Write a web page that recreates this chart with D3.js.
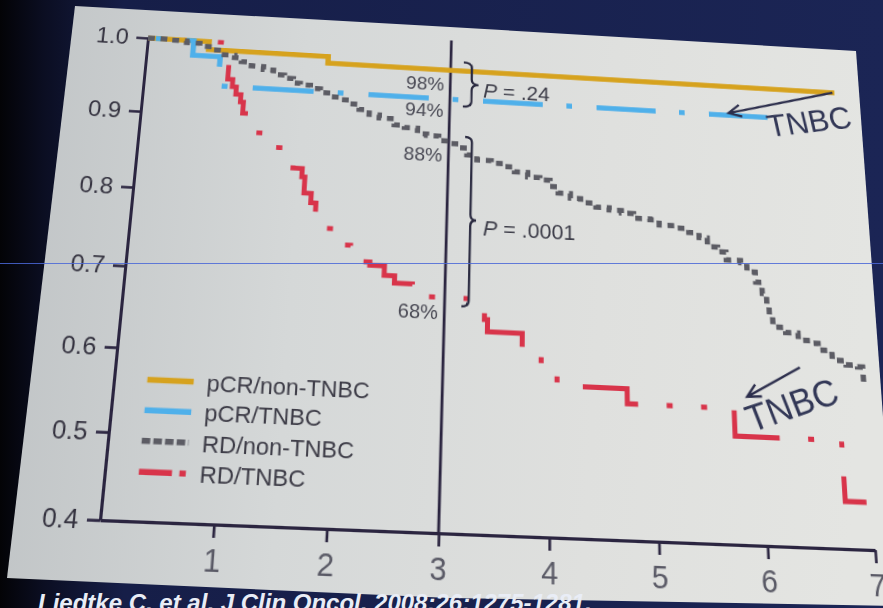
<!DOCTYPE html>
<html>
<head>
<meta charset="utf-8">
<script src="https://cdn.jsdelivr.net/npm/d3@7"></script>
<style>
  html, body { margin: 0; padding: 0; width: 883px; height: 608px; overflow: hidden; background: #141c40; }
  #stage { position: relative; width: 883px; height: 608px; overflow: hidden; }
  #stage svg { position: absolute; left: 0; top: 0; }
  #chart { transform-origin: 0 0; overflow: visible; }
</style>
</head>
<body>
<div id="stage"></div>
<script>
// ---- Overall survival by response and subtype (years) ----
const xTicks = [1, 2, 3, 4, 5, 6, 7];
const yTicks = [0.4, 0.5, 0.6, 0.7, 0.8, 0.9, 1.0];
const landmarkYear = 3;

const pcrNonTnbcTime = [0, 0.6, 1.78, 6.9];
const pcrNonTnbcSurv = [1.0, 0.989, 0.98, 0.98];

const pcrTnbcTime = [0, 0.45, 0.72, 6.2];
const pcrTnbcSurv = [1.0, 0.98, 0.94, 0.94];

const rdNonTnbcTime = [0, 0.2, 0.38, 0.51, 0.64, 0.73, 0.86, 0.93, 1.03, 1.15, 1.25, 1.36, 1.45, 1.52,
  1.62, 1.72, 1.82, 1.92, 2.02, 2.11, 2.21, 2.31, 2.46, 2.56, 2.69, 2.78, 2.9, 3.0, 3.1, 3.18, 3.28,
  3.42, 3.55, 3.65, 3.78, 3.9, 4.0, 4.08, 4.2, 4.3, 4.45, 4.58, 4.7, 4.82, 4.98, 5.07, 5.22, 5.36,
  5.46, 5.54, 5.64, 5.72, 5.86, 5.92, 6.0, 6.06, 6.1, 6.12, 6.15, 6.27, 6.39, 6.52, 6.58, 6.71,
  6.84, 6.95, 7.0];
const rdNonTnbcSurv = [1.0, 0.999, 0.997, 0.993, 0.989, 0.983, 0.98, 0.975, 0.97, 0.966, 0.96, 0.956,
  0.95, 0.948, 0.944, 0.939, 0.934, 0.931, 0.926, 0.919, 0.913, 0.909, 0.901, 0.898, 0.891, 0.889,
  0.883, 0.88, 0.875, 0.866, 0.86, 0.857, 0.853, 0.847, 0.841, 0.838, 0.83, 0.822, 0.816, 0.811,
  0.806, 0.803, 0.8, 0.794, 0.793, 0.787, 0.784, 0.779, 0.773, 0.762, 0.756, 0.746, 0.743, 0.732,
  0.719, 0.705, 0.688, 0.676, 0.663, 0.657, 0.648, 0.645, 0.637, 0.625, 0.62, 0.618, 0.60];

const rdTnbcTime = [0, 0.81, 0.86, 0.9, 0.95, 0.98, 1.06, 1.11, 1.25, 1.35, 1.45, 1.5, 1.59, 1.62,
  1.69, 1.74, 1.85, 1.94, 2.02, 2.09, 2.2, 2.28, 2.42, 2.52, 2.69, 3.38, 3.41, 3.74, 3.92, 4.07,
  4.73, 5.74, 6.75, 6.95];
const rdTnbcSurv = [1.0, 0.95, 0.94, 0.93, 0.92, 0.905, 0.895, 0.88, 0.87, 0.862, 0.85, 0.836, 0.825,
  0.804, 0.792, 0.77, 0.76, 0.755, 0.74, 0.728, 0.72, 0.716, 0.704, 0.695, 0.68, 0.655, 0.64, 0.62,
  0.60, 0.578, 0.56, 0.527, 0.455, 0.455];

const pValueTexts = [".24", ".0001"];
const seriesNames = ["pCR/non-TNBC", "pCR/TNBC", "RD/non-TNBC", "RD/TNBC"];
const calloutText = "TNBC";
const sourceText = "Liedtke C, et al. J Clin Oncol. 2008;26:1275-1281.";

// ---- styles ----
const FONT = "'Liberation Sans', Arial, Helvetica, sans-serif";
const AXIS = "#2b2540";
// dash patterns: "dash" is along the flat path, "screenDash" is measured on the projected slide
const series = [
  { name: seriesNames[3], time: rdTnbcTime, surv: rdTnbcSurv, color: "#d8344a", width: 5,
    screenDash: [70, 28.5, 6, 28.5, 6, 29], offset: 63, legendDash: "31 7 6 200" },
  { name: seriesNames[0], time: pcrNonTnbcTime, surv: pcrNonTnbcSurv, color: "#d6a21e", width: 5.5,
    dash: null, offset: 0, legendDash: null },
  { name: seriesNames[1], time: pcrTnbcTime, surv: pcrTnbcSurv, color: "#4fb0ea", width: 5.5,
    dash: "63 25 6 26", offset: 80, legendDash: null },
  { name: seriesNames[2], time: rdNonTnbcTime, surv: rdNonTnbcSurv, color: "#5c5c64", width: 5.5,
    dash: "7 6", offset: 0, legendDash: "8 3" }
];
const legendOrder = [1, 2, 3, 0];

// ---- flat chart geometry ----
const margin = { left: 170, top: 90 };
const plotW = 740, plotH = 480;
const x = d3.scaleLinear().domain([0, 7]).range([margin.left, margin.left + plotW]);
const y = d3.scaleLinear().domain([0.4, 1.0]).range([margin.top + plotH, margin.top]);

// screen positions of four plot points on the projected slide (u, v, px, py)
const screenAnchors = [[0, 1.0, 148, 38], [0, 0.4, 100, 520], [7, 0.4, 875, 550], [3, 1.0, 451, 56]];

function solveHomography(src, dst) {
  const A = [], b = [];
  for (let i = 0; i < 4; i++) {
    const [sx, sy] = src[i], [X, Y] = dst[i];
    A.push([sx, sy, 1, 0, 0, 0, -X * sx, -X * sy]); b.push(X);
    A.push([0, 0, 0, sx, sy, 1, -Y * sx, -Y * sy]); b.push(Y);
  }
  const n = 8;
  for (let c = 0; c < n; c++) {
    let p = c;
    for (let r = c + 1; r < n; r++) if (Math.abs(A[r][c]) > Math.abs(A[p][c])) p = r;
    [A[c], A[p]] = [A[p], A[c]]; [b[c], b[p]] = [b[p], b[c]];
    for (let r = 0; r < n; r++) {
      if (r === c) continue;
      const f = A[r][c] / A[c][c];
      for (let k = c; k < n; k++) A[r][k] -= f * A[c][k];
      b[r] -= f * b[c];
    }
  }
  return b.map((v, i) => v / A[i][i]);
}

const W = 883, H = 608;
const stage = d3.select("#stage");

// ---- room and projected slide surface ----
const base = stage.append("svg").attr("width", W).attr("height", H);
const defs = base.append("defs");
const room = defs.append("linearGradient").attr("id", "room")
  .attr("gradientUnits", "userSpaceOnUse").attr("x1", 0).attr("y1", 0).attr("x2", W).attr("y2", 0);
[[0, "#030306"], [0.05, "#0b0e22"], [0.14, "#161e48"], [1, "#1b2555"]].forEach(([o, c]) =>
  room.append("stop").attr("offset", o).attr("stop-color", c));
const screenFill = defs.append("linearGradient").attr("id", "screenFill")
  .attr("gradientUnits", "userSpaceOnUse").attr("x1", 0).attr("y1", 0).attr("x2", W).attr("y2", 60);
[[0, "#bfc3c5"], [0.35, "#d5d8d8"], [0.7, "#dfe0de"], [1, "#e4e5e2"]].forEach(([o, c]) =>
  screenFill.append("stop").attr("offset", o).attr("stop-color", c));

base.append("rect").attr("width", W).attr("height", H).attr("fill", "url(#room)");
base.append("polygon")
  .attr("points", [[75, 6], [450, 27], [856, 51], [897, 606], [450, 598], [7, 578]].join(" "))
  .attr("fill", "url(#screenFill)");
base.append("text").attr("x", 38).attr("y", 611)
  .attr("font-family", FONT).attr("font-size", 24).attr("font-style", "italic").attr("font-weight", "bold")
  .attr("fill", "#e9edf6").text(sourceText);

// ---- chart, drawn flat and projected onto the slide ----
const chart = stage.append("svg").attr("id", "chart").attr("width", 1000).attr("height", 720);
const hm = solveHomography(
  screenAnchors.map(d => [x(d[0]), y(d[1])]),
  screenAnchors.map(d => [d[2], d[3]]));
chart.style("transform",
  `matrix3d(${hm[0]},${hm[3]},0,${hm[6]},${hm[1]},${hm[4]},0,${hm[7]},0,0,1,0,${hm[2]},${hm[5]},0,1)`);
const project = p => {
  const w = hm[6] * p[0] + hm[7] * p[1] + 1;
  return [(hm[0] * p[0] + hm[1] * p[1] + hm[2]) / w, (hm[3] * p[0] + hm[4] * p[1] + hm[5]) / w];
};

// axes
const gy = chart.append("g").attr("transform", `translate(${x(0)},0)`)
  .call(d3.axisLeft(y).tickValues(yTicks).tickFormat(d3.format(".1f"))
    .tickSize(12).tickSizeOuter(0).tickPadding(8));
gy.select(".domain").attr("stroke", AXIS).attr("stroke-width", 3);
gy.selectAll(".tick line").attr("stroke", AXIS).attr("stroke-width", 2.6);
gy.selectAll(".tick text").attr("font-family", FONT).attr("font-size", 24).attr("fill", "#34323f");

const gx = chart.append("g").attr("transform", `translate(0,${y(0.4)})`)
  .call(d3.axisBottom(x).tickValues(xTicks).tickFormat(d3.format("d"))
    .tickSize(12).tickSizeOuter(0).tickPadding(9));
gx.select(".domain").attr("stroke", AXIS).attr("stroke-width", 3);
gx.selectAll(".tick line").attr("stroke", AXIS).attr("stroke-width", 2.6);
gx.selectAll(".tick text").attr("font-family", FONT).attr("font-size", 29).attr("fill", "#5a5a66");

// landmark line at 3 years
chart.append("line")
  .attr("x1", x(landmarkYear)).attr("x2", x(landmarkYear))
  .attr("y1", y(1.022)).attr("y2", y(0.4))
  .attr("stroke", AXIS).attr("stroke-width", 2.8);

// step-curve vertices in chart pixels
function stepVertices(s) {
  const v = [[x(s.time[0]), y(s.surv[0])]];
  for (let i = 1; i < s.time.length; i++) {
    v.push([x(s.time[i]), y(s.surv[i - 1])]);
    v.push([x(s.time[i]), y(s.surv[i])]);
  }
  return v;
}

// split a polyline into dash pieces, measuring lengths on the projected slide
function dashPieces(pts, pattern, offset) {
  const period = d3.sum(pattern);
  let pos = ((offset % period) + period) % period, idx = 0;
  while (pos >= pattern[idx]) { pos -= pattern[idx]; idx = (idx + 1) % pattern.length; }
  let remain = pattern[idx] - pos;
  const pieces = [];
  let cur = null;
  const lerp = (a, b, t) => [a[0] + (b[0] - a[0]) * t, a[1] + (b[1] - a[1]) * t];
  for (let i = 0; i + 1 < pts.length; i++) {
    const a = pts[i], b = pts[i + 1];
    const A = project(a), B = project(b);
    const len = Math.hypot(B[0] - A[0], B[1] - A[1]);
    if (len === 0) continue;
    let t = 0;
    while (true) {
      const on = idx % 2 === 0;
      if (on && !cur) cur = [lerp(a, b, t)];
      const left = (1 - t) * len;
      if (remain >= left) { remain -= left; if (on) cur.push(b); break; }
      t += remain / len;
      if (on) { cur.push(lerp(a, b, t)); pieces.push(cur); cur = null; }
      idx = (idx + 1) % pattern.length;
      remain = pattern[idx];
    }
  }
  if (cur) pieces.push(cur);
  return pieces;
}

// survival curves
const stepLine = d3.line().x(d => x(d[0])).y(d => y(d[1])).curve(d3.curveStepAfter);
const plainLine = d3.line();
series.forEach(s => {
  if (s.screenDash) {
    const g = chart.append("g").attr("fill", "none").attr("stroke", s.color)
      .attr("stroke-width", s.width).attr("stroke-linejoin", "miter");
    dashPieces(stepVertices(s), s.screenDash, s.offset).forEach(p =>
      g.append("path").attr("d", plainLine(p)));
  } else {
    chart.append("path")
      .datum(s.time.map((t, i) => [t, s.surv[i]]))
      .attr("d", stepLine)
      .attr("fill", "none")
      .attr("stroke", s.color)
      .attr("stroke-width", s.width)
      .attr("stroke-dasharray", s.dash)
      .attr("stroke-dashoffset", s.offset);
  }
});

// values at the landmark
function survAt(s, t) {
  let i = 0;
  while (i + 1 < s.time.length && s.time[i + 1] <= t) i++;
  return s.surv[i];
}
const pct = d3.format(".0%");
const landmarkLabels = [
  { s: series[1], v: 0.951 }, { s: series[2], v: 0.915 },
  { s: series[3], v: 0.855 }, { s: series[0], v: 0.652 }
];
landmarkLabels.forEach(d => {
  chart.append("text")
    .attr("x", x(2.94)).attr("y", y(d.v))
    .attr("text-anchor", "end")
    .attr("font-family", FONT).attr("font-size", 20).attr("fill", "#4a4a55")
    .text(pct(survAt(d.s, landmarkYear)));
});

// braces with p-values
function brace(xa, v1, v2, w) {
  const y1 = y(v1), y2 = y(v2), ym = (y1 + y2) / 2, xs = xa + w * 0.55, xt = xa + w;
  return `M${xa},${y1} Q${xs},${y1} ${xs},${y1 + 6} L${xs},${ym - 6} Q${xs},${ym} ${xt},${ym}` +
    ` Q${xs},${ym} ${xs},${ym + 6} L${xs},${y2 - 6} Q${xs},${y2} ${xa},${y2}`;
}
[[3.13, 0.992, 0.931, 16], [3.16, 0.89, 0.67, 13]].forEach(b => {
  chart.append("path").attr("d", brace(x(b[0]), b[1], b[2], b[3]))
    .attr("fill", "none").attr("stroke", "#2a2a40").attr("stroke-width", 2.3);
});
[[3.33, 0.945, pValueTexts[0]], [3.35, 0.761, pValueTexts[1]]].forEach(p => {
  const t = chart.append("text").attr("x", x(p[0])).attr("y", y(p[1]))
    .attr("font-family", FONT).attr("font-size", 22).attr("fill", "#3c3c48");
  t.append("tspan").attr("font-style", "italic").text("P");
  t.append("tspan").text(" = " + p[2]);
});

// TNBC callouts with arrows
function arrow(u1, v1, u2, v2) {
  const x1 = x(u1), y1 = y(v1), x2 = x(u2), y2 = y(v2);
  const a = Math.atan2(y1 - y2, x1 - x2), L = 15, sp = 0.45;
  chart.append("path")
    .attr("d", `M${x1},${y1} L${x2},${y2} M${x2 + L * Math.cos(a - sp)},${y2 + L * Math.sin(a - sp)}` +
      ` L${x2},${y2} L${x2 + L * Math.cos(a + sp)},${y2 + L * Math.sin(a + sp)}`)
    .attr("fill", "none").attr("stroke", "#2c2e4c").attr("stroke-width", 2.4);
}
arrow(6.88, 0.98, 5.8, 0.943);
arrow(6.39, 0.614, 5.87, 0.575);
[[6.21, 0.913, -10, 34], [5.9, 0.532, -20, 36]].forEach(c => {
  chart.append("text")
    .attr("transform", `translate(${x(c[0])},${y(c[1])}) rotate(${c[2]})`)
    .attr("font-family", FONT).attr("font-size", c[3]).attr("fill", "#323756")
    .text(calloutText);
});

// legend
const legX = x(0.3), legW = x(0.72) - x(0.3), legTextX = x(0.84);
const legY0 = y(0.563), legStep = y(0.5273) - y(0.563);
legendOrder.forEach((si, i) => {
  const s = series[si], ly = legY0 + i * legStep;
  chart.append("line")
    .attr("x1", legX).attr("x2", legX + legW).attr("y1", ly).attr("y2", ly)
    .attr("stroke", s.color).attr("stroke-width", 5.5)
    .attr("stroke-dasharray", s.legendDash);
  chart.append("text")
    .attr("x", legTextX).attr("y", ly + 8)
    .attr("font-family", FONT).attr("font-size", 22.5).attr("fill", "#3c3b46")
    .text(s.name);
});

// thin scan line across the frame
const overlay = stage.append("svg").attr("width", W).attr("height", H);
overlay.append("line").attr("x1", 0).attr("x2", W).attr("y1", 263.5).attr("y2", 263.5)
  .attr("stroke", "#4a68d8").attr("stroke-width", 1).attr("opacity", 0.85);
</script>
</body>
</html>
